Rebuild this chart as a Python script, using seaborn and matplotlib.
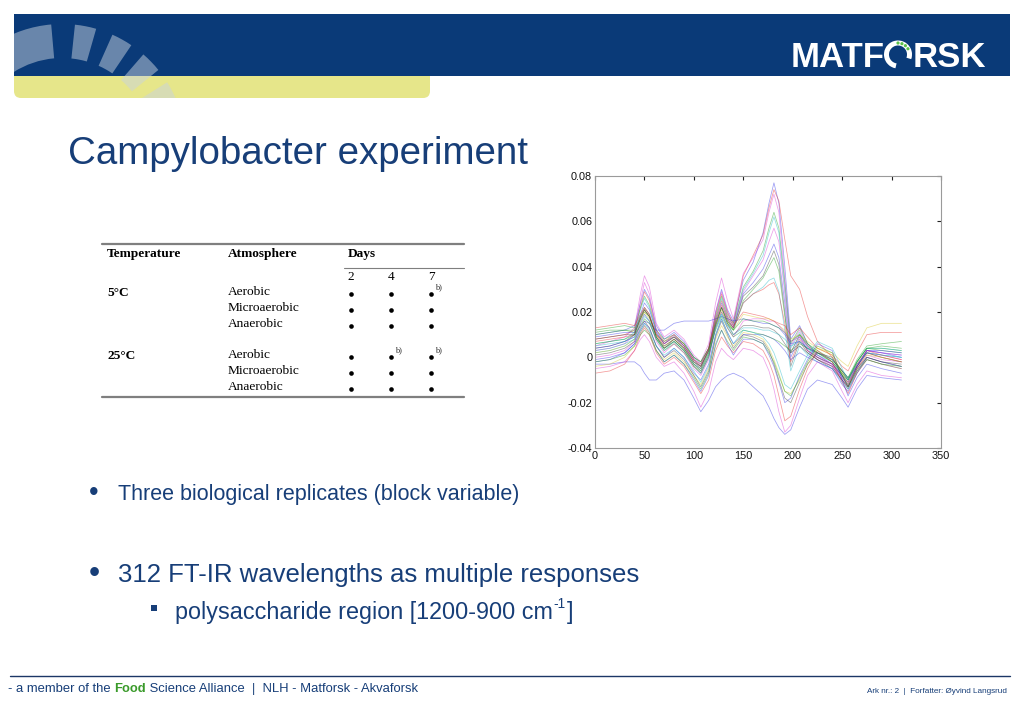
import math
import pandas as pd
import matplotlib
matplotlib.use("Agg")
import matplotlib.pyplot as plt
import seaborn as sns
from matplotlib import font_manager
from matplotlib.patches import Rectangle, Wedge, FancyBboxPatch, Arc, Circle

WAVE_INDEX = [0, 15, 30, 40, 46, 50, 55, 62, 70, 80, 90, 100, 107, 115, 122, 128, 134, 140,
              150, 160, 170, 176, 181, 186, 192, 198, 207, 215, 225, 240, 250, 256, 265, 275, 290, 310]

# spectra with the strong band around index 181
HIGH_PEAK = [
    [0.010, 0.011, 0.012, 0.014, 0.024, 0.030, 0.026, 0.014, 0.008, 0.011, 0.007, 0.000, -0.003, 0.004, 0.020, 0.030, 0.021, 0.016,
     0.034, 0.042, 0.055, 0.068, 0.077, 0.068, 0.040, 0.008, 0.014, 0.006, 0.001, -0.003, -0.008, -0.012, -0.004, 0.003, 0.002, 0.000],
    [0.008, 0.009, 0.010, 0.012, 0.022, 0.029, 0.025, 0.012, 0.007, 0.010, 0.006, -0.001, -0.004, 0.003, 0.019, 0.028, 0.020, 0.015,
     0.036, 0.045, 0.054, 0.066, 0.074, 0.069, 0.052, 0.036, 0.030, 0.018, 0.007, 0.000, -0.006, -0.010, -0.003, 0.002, 0.000, -0.002],
    [0.005, 0.007, 0.009, 0.013, 0.028, 0.036, 0.031, 0.015, 0.009, 0.012, 0.008, 0.001, -0.002, 0.006, 0.024, 0.035, 0.025, 0.017,
     0.037, 0.044, 0.052, 0.064, 0.072, 0.064, 0.035, 0.005, 0.012, 0.005, 0.000, -0.004, -0.009, -0.013, -0.005, 0.002, 0.001, -0.001],
    [0.012, 0.013, 0.014, 0.013, 0.022, 0.027, 0.023, 0.012, 0.008, 0.010, 0.006, 0.000, -0.002, 0.004, 0.018, 0.027, 0.019, 0.015,
     0.031, 0.038, 0.047, 0.057, 0.064, 0.057, 0.033, 0.006, 0.013, 0.006, 0.002, -0.002, -0.007, -0.010, -0.002, 0.004, 0.003, 0.002],
    [0.006, 0.007, 0.008, 0.011, 0.021, 0.026, 0.022, 0.011, 0.006, 0.009, 0.005, -0.002, -0.005, 0.002, 0.017, 0.026, 0.018, 0.014,
     0.030, 0.037, 0.045, 0.055, 0.062, 0.055, 0.030, 0.004, 0.011, 0.004, 0.000, -0.003, -0.009, -0.012, -0.004, 0.002, 0.001, 0.000],
    [0.003, 0.004, 0.006, 0.010, 0.025, 0.033, 0.028, 0.012, 0.006, 0.010, 0.005, -0.002, -0.005, 0.004, 0.020, 0.029, 0.020, 0.014,
     0.029, 0.036, 0.043, 0.051, 0.057, 0.051, 0.028, 0.002, 0.010, 0.003, -0.001, -0.004, -0.010, -0.013, -0.005, 0.001, -0.001, -0.002],
    [0.009, 0.010, 0.011, 0.011, 0.019, 0.024, 0.021, 0.011, 0.006, 0.009, 0.005, -0.001, -0.004, 0.003, 0.016, 0.024, 0.017, 0.013,
     0.028, 0.033, 0.039, 0.045, 0.050, 0.044, 0.024, 0.000, 0.009, 0.003, 0.000, -0.003, -0.008, -0.011, -0.004, 0.003, 0.002, 0.001],
    [0.004, 0.005, 0.007, 0.010, 0.018, 0.022, 0.019, 0.009, 0.004, 0.008, 0.004, -0.003, -0.006, 0.001, 0.015, 0.022, 0.016, 0.013,
     0.027, 0.031, 0.036, 0.042, 0.047, 0.041, 0.020, -0.004, 0.007, 0.002, -0.001, -0.005, -0.010, -0.014, -0.006, 0.000, -0.002, -0.004],
    [0.011, 0.012, 0.012, 0.011, 0.017, 0.020, 0.018, 0.010, 0.007, 0.009, 0.006, 0.000, -0.002, 0.004, 0.014, 0.020, 0.015, 0.012,
     0.025, 0.030, 0.035, 0.040, 0.044, 0.038, 0.018, 0.002, 0.010, 0.005, 0.002, -0.001, -0.006, -0.009, -0.002, 0.004, 0.004, 0.003],
    [0.002, 0.003, 0.005, 0.008, 0.015, 0.018, 0.016, 0.008, 0.003, 0.006, 0.002, -0.004, -0.007, 0.000, 0.013, 0.019, 0.014, 0.012,
     0.024, 0.028, 0.031, 0.034, 0.035, 0.029, 0.012, -0.006, 0.005, 0.001, -0.002, -0.005, -0.011, -0.014, -0.007, -0.001, -0.003, -0.005],
    [0.007, 0.008, 0.009, 0.010, 0.017, 0.021, 0.018, 0.010, 0.005, 0.008, 0.004, -0.002, -0.004, 0.003, 0.016, 0.023, 0.017, 0.013,
     0.024, 0.028, 0.030, 0.032, 0.033, 0.028, 0.015, -0.002, 0.008, 0.003, 0.000, -0.003, -0.008, -0.011, -0.003, 0.003, 0.001, -0.001],
]
HIGH_COLORS = ["b", "r", "m", "g", "c", "m", "b", "k", "g", "c", "r"]

# spectra that stay level over the 140-200 region
FLAT_TOP = [
    [0.004, 0.005, 0.007, 0.009, 0.014, 0.016, 0.015, 0.012, 0.012, 0.015, 0.016, 0.016, 0.016, 0.016, 0.017, 0.018, 0.017, 0.016,
     0.017, 0.016, 0.015, 0.015, 0.014, 0.013, 0.010, 0.006, 0.007, 0.004, 0.002, -0.001, -0.006, -0.009, -0.004, 0.003, 0.003, 0.002],
    [0.013, 0.014, 0.015, 0.014, 0.019, 0.022, 0.019, 0.010, 0.006, 0.009, 0.005, -0.001, -0.003, 0.004, 0.017, 0.025, 0.018, 0.014,
     0.020, 0.019, 0.018, 0.017, 0.016, 0.015, 0.014, 0.010, 0.013, 0.009, 0.004, 0.001, -0.004, -0.006, 0.002, 0.010, 0.011, 0.011],
    [0.002, 0.003, 0.005, 0.008, 0.016, 0.020, 0.017, 0.008, 0.003, 0.006, 0.002, -0.004, -0.006, 0.001, 0.014, 0.021, 0.015, 0.012,
     0.019, 0.018, 0.017, 0.017, 0.016, 0.014, 0.012, 0.008, 0.010, 0.007, 0.004, 0.002, -0.002, -0.004, 0.005, 0.013, 0.015, 0.015],
    [0.010, 0.011, 0.012, 0.012, 0.018, 0.021, 0.018, 0.009, 0.005, 0.008, 0.004, -0.002, -0.004, 0.003, 0.015, 0.022, 0.016, 0.012,
     0.017, 0.016, 0.016, 0.015, 0.014, 0.013, 0.011, 0.007, 0.010, 0.006, 0.003, -0.001, -0.006, -0.009, -0.001, 0.005, 0.006, 0.007],
    [0.000, 0.001, 0.003, 0.007, 0.015, 0.019, 0.016, 0.007, 0.002, 0.006, 0.002, -0.005, -0.008, -0.001, 0.013, 0.020, 0.013, 0.009,
     0.016, 0.017, 0.017, 0.016, 0.016, 0.014, 0.011, 0.007, 0.009, 0.005, 0.001, -0.003, -0.009, -0.012, -0.004, 0.003, 0.002, 0.001],
    [0.008, 0.009, 0.010, 0.010, 0.017, 0.021, 0.018, 0.009, 0.004, 0.007, 0.003, -0.004, -0.007, 0.000, 0.014, 0.022, 0.015, 0.010,
     0.014, 0.014, 0.013, 0.013, 0.012, 0.010, 0.006, 0.002, 0.005, 0.002, -0.001, -0.004, -0.010, -0.013, -0.004, 0.002, 0.000, -0.002],
    [0.005, 0.006, 0.007, 0.009, 0.016, 0.019, 0.016, 0.008, 0.003, 0.007, 0.003, -0.003, -0.006, 0.001, 0.013, 0.019, 0.014, 0.010,
     0.013, 0.013, 0.012, 0.012, 0.011, 0.010, 0.008, 0.005, 0.007, 0.004, 0.001, -0.002, -0.008, -0.010, -0.002, 0.004, 0.004, 0.003],
    [-0.002, -0.001, 0.002, 0.006, 0.012, 0.015, 0.013, 0.005, 0.000, 0.004, 0.000, -0.007, -0.010, -0.003, 0.010, 0.017, 0.011, 0.006,
     0.010, 0.010, 0.010, 0.009, 0.008, 0.006, 0.003, -0.001, 0.002, 0.000, -0.002, -0.005, -0.012, -0.015, -0.007, 0.000, -0.002, -0.004],
    [0.006, 0.007, 0.008, 0.010, 0.014, 0.017, 0.015, 0.008, 0.004, 0.007, 0.003, -0.003, -0.005, 0.002, 0.012, 0.018, 0.013, 0.009,
     0.012, 0.011, 0.010, 0.009, 0.008, 0.007, 0.005, 0.003, 0.006, 0.004, 0.002, -0.002, -0.007, -0.010, -0.002, 0.004, 0.005, 0.004],
]
FLAT_COLORS = ["b", "r", "y", "g", "m", "k", "c", "b", "g"]

# spectra that dip below zero around index 192
LOW_DIP = [
    [-0.003, -0.003, -0.002, -0.002, -0.004, -0.007, -0.010, -0.010, -0.007, -0.006, -0.010, -0.018, -0.024, -0.019, -0.013, -0.010, -0.008, -0.007,
     -0.009, -0.013, -0.017, -0.022, -0.027, -0.031, -0.034, -0.032, -0.022, -0.014, -0.010, -0.012, -0.018, -0.022, -0.014, -0.008, -0.009, -0.010],
    [-0.005, -0.004, -0.002, 0.003, 0.008, 0.010, 0.007, 0.000, -0.004, -0.002, -0.007, -0.015, -0.022, -0.015, -0.002, 0.004, 0.001, -0.001,
     0.004, 0.003, 0.000, -0.006, -0.014, -0.024, -0.033, -0.030, -0.018, -0.008, -0.002, -0.006, -0.015, -0.020, -0.012, -0.006, -0.008, -0.009],
    [-0.007, -0.006, -0.003, 0.003, 0.010, 0.013, 0.010, 0.002, -0.003, 0.000, -0.004, -0.011, -0.016, -0.010, 0.003, 0.009, 0.005, 0.002,
     0.007, 0.006, 0.003, -0.002, -0.008, -0.017, -0.028, -0.026, -0.014, -0.005, 0.003, -0.002, -0.011, -0.016, -0.007, -0.001, -0.003, -0.005],
    [-0.001, 0.000, 0.002, 0.006, 0.011, 0.014, 0.011, 0.003, -0.002, 0.001, -0.003, -0.010, -0.015, -0.008, 0.006, 0.012, 0.006, 0.001,
     0.008, 0.008, 0.006, 0.001, -0.004, -0.011, -0.020, -0.018, -0.008, -0.001, 0.006, 0.003, -0.010, -0.017, -0.009, -0.003, -0.005, -0.007],
    [-0.004, -0.003, 0.000, 0.005, 0.011, 0.014, 0.011, 0.003, -0.001, 0.002, -0.002, -0.008, -0.012, -0.005, 0.008, 0.014, 0.009, 0.005,
     0.011, 0.010, 0.008, 0.004, -0.001, -0.007, -0.015, -0.016, -0.010, -0.003, 0.004, 0.001, -0.007, -0.012, -0.005, 0.001, 0.000, -0.002],
    [0.001, 0.002, 0.004, 0.007, 0.013, 0.016, 0.013, 0.005, 0.000, 0.003, -0.001, -0.008, -0.013, -0.006, 0.009, 0.016, 0.010, 0.004,
     0.010, 0.009, 0.007, 0.003, -0.003, -0.010, -0.018, -0.020, -0.011, -0.003, 0.002, 0.000, -0.008, -0.013, -0.005, 0.000, -0.002, -0.003],
    [0.003, 0.004, 0.006, 0.008, 0.012, 0.015, 0.012, 0.005, 0.001, 0.004, 0.000, -0.006, -0.011, -0.004, 0.010, 0.017, 0.011, 0.006,
     0.012, 0.011, 0.009, 0.006, 0.002, -0.004, -0.012, -0.014, -0.006, 0.001, 0.007, 0.004, -0.005, -0.010, -0.003, 0.002, 0.001, 0.000],
    [-0.002, -0.001, 0.001, 0.005, 0.010, 0.012, 0.010, 0.003, -0.002, 0.001, -0.003, -0.009, -0.014, -0.007, 0.005, 0.012, 0.007, 0.003,
     0.009, 0.008, 0.006, 0.002, -0.002, -0.008, -0.015, -0.017, -0.009, -0.002, 0.005, 0.002, -0.008, -0.013, -0.006, -0.001, -0.003, -0.004],
]
LOW_COLORS = ["b", "m", "r", "b", "y", "k", "c", "g"]

X_TICKS = [0, 50, 100, 150, 200, 250, 300, 350]
Y_TICKS = [-0.04, -0.02, 0, 0.02, 0.04, 0.06, 0.08]
Y_TICK_LABELS = ["-0.04", "-0.02", "0", "0.02", "0.04", "0.06", "0.08"]

# design table
TEMPS = ["5°C", "25°C"]
ATMOSPHERES = ["Aerobic", "Microaerobic", "Anaerobic"]
DAYS = ["2", "4", "7"]
FOOTNOTE_B = [(0, 0, 2), (1, 0, 1), (1, 0, 2)]

TITLE = "Campylobacter experiment"
BULLET_1 = "Three biological replicates (block variable)"
BULLET_2 = "312 FT-IR wavelengths as multiple responses"
SUB_BULLET = "polysaccharide region [1200-900 cm"

MATLAB_RGB = {"b": "#2626e6", "g": "#159a15", "r": "#e62020", "c": "#10b4c4",
              "m": "#d82ad0", "y": "#d6c418", "k": "#303030"}

NAVY = "#0a3a78"
TEXT_BLUE = "#173e78"
YELLOW = "#e6e68a"

sns.set_style("white")
plt.rcParams["font.family"] = ["Liberation Sans", "DejaVu Sans"]

names = {f.name for f in font_manager.fontManager.ttflist}
if "Liberation Sans Narrow" in names:
    NARROW, SQ = "Liberation Sans Narrow", 1.0
else:
    NARROW, SQ = "Liberation Sans", 0.82

fig = plt.figure(figsize=(10.23, 7.08), dpi=100)
bg = fig.add_axes([0, 0, 1, 1])
bg.set_xlim(0, 1023)
bg.set_ylim(708, 0)
bg.axis("off")
renderer = fig.canvas.get_renderer()


def run_text(x, y, pieces, **kw):
    # draw text pieces one after another on one baseline
    for s, extra in pieces:
        opts = dict(kw)
        opts.update(extra)
        t = bg.text(x, y, s, **opts)
        x += t.get_window_extent(renderer).width
    return x


# ---- header band ----
bg.add_patch(FancyBboxPatch((14, 66), 416, 32, boxstyle="round,pad=0,rounding_size=7",
                            color=YELLOW, lw=0, zorder=1))
bg.add_patch(Rectangle((14, 14), 996, 62, color=NAVY, lw=0, zorder=2))
clip = Rectangle((14, 14), 996, 84, transform=bg.transData)
for a1, a2 in [(95, 150), (74, 84), (56, 66), (39, 49), (23, 32)]:
    w = Wedge((62, 148), 124, -a2, -a1, width=34, color="#c9d3de", alpha=0.5, lw=0, zorder=3)
    bg.add_patch(w)
    w.set_clip_path(clip)

xm = run_text(791, 67, [("MATF", {})], color="white", fontsize=25, fontweight="bold",
              family="Liberation Sans", va="baseline", zorder=4)
ring_c = (xm + 13, 54.5)
bg.add_patch(Arc(ring_c, 23, 23, theta1=100, theta2=380, color="white", lw=3.6, zorder=4))
for ang in [-30, -50, -70, -90]:
    r = 11.5
    bg.add_patch(Circle((ring_c[0] + r * math.cos(math.radians(ang)),
                         ring_c[1] + r * math.sin(math.radians(ang))), 1.6,
                        color="#5cc24a", lw=0, zorder=4))
run_text(xm + 28, 67, [("RSK", {})], color="white", fontsize=25, fontweight="bold",
         family="Liberation Sans", va="baseline", zorder=4)

# ---- title ----
bg.text(68, 164, TITLE, color=TEXT_BLUE, fontsize=33.8 * SQ, family=NARROW, va="baseline")

# ---- table ----
serif = dict(family="Liberation Serif", fontsize=9.6, color="black", va="center")
bg.plot([102, 464], [244, 244], color="#7f7f7f", lw=1.6)
bg.plot([344, 464], [268, 268], color="#7f7f7f", lw=0.8)
bg.plot([102, 464], [397, 397], color="#7f7f7f", lw=1.6)
bg.text(107, 254, "Temperature", fontweight="bold", **serif)
bg.text(228, 254, "Atmosphere", fontweight="bold", **serif)
bg.text(348, 254, "Days", fontweight="bold", **serif)
day_x = [351, 391, 431]
for d, x in zip(DAYS, day_x):
    bg.text(x, 277, d, ha="center", **serif)
block_y = [[292, 308, 324], [355, 371, 387]]
for ti, temp in enumerate(TEMPS):
    bg.text(107, block_y[ti][0] + 1, temp, fontweight="bold", **serif)
    for ai, atm in enumerate(ATMOSPHERES):
        yy = block_y[ti][ai]
        bg.text(228, yy, atm, **serif)
        bg.scatter(day_x, [yy + 1.5] * len(DAYS), s=11, color="black", lw=0)
for ti, ai, di in FOOTNOTE_B:
    bg.text(day_x[di] + 4, block_y[ti][ai] - 5, "b)", family="Liberation Serif",
            fontsize=6, va="center")

# ---- bullets ----
blue_txt = dict(color=TEXT_BLUE, family=NARROW, va="baseline")
bg.text(89, 500, "•", fontsize=24 * SQ, **blue_txt)
bg.text(118, 500, BULLET_1, fontsize=18.9 * SQ, **blue_txt)
bg.text(89, 582, "•", fontsize=28 * SQ, **blue_txt)
bg.text(118, 582, BULLET_2, fontsize=22.6 * SQ, **blue_txt)
bg.add_patch(Rectangle((151, 605), 5.5, 5.5, color=TEXT_BLUE, lw=0))
xe = run_text(175, 619, [(SUB_BULLET, {})], fontsize=20.5 * SQ, **blue_txt)
xe = run_text(xe + 1, 608, [("-1", {})], fontsize=12 * SQ, **blue_txt)
run_text(xe + 1, 619, [("]", {})], fontsize=20.5 * SQ, **blue_txt)

# ---- footer ----
bg.plot([10, 1010], [676, 676], color="#1c3766", lw=1.0)
foot = dict(color=TEXT_BLUE, family=NARROW, fontsize=11.4 * SQ, va="baseline")
run_text(8, 692, [("- a member of the ", {}), ("Food", {"color": "#3a9a2a", "fontweight": "bold"}),
                  (" Science Alliance  |  NLH - Matforsk - Akvaforsk", {})], **foot)
bg.text(1007, 693, "Ark nr.: 2  |  Forfatter: Øyvind Langsrud", color=TEXT_BLUE,
        family=NARROW, fontsize=7.2 * SQ, ha="right", va="baseline")

# ---- spectra plot ----
ax = fig.add_axes([595 / 1023, 1 - 448 / 708, 346 / 1023, 272 / 708])
rows = []
palette = {}
groups = [("high", HIGH_PEAK, HIGH_COLORS), ("flat", FLAT_TOP, FLAT_COLORS), ("low", LOW_DIP, LOW_COLORS)]
for gname, spectra, cols in groups:
    for i, (spec, c) in enumerate(zip(spectra, cols)):
        sid = f"{gname}{i}"
        palette[sid] = MATLAB_RGB[c]
        for w, v in zip(WAVE_INDEX, spec):
            rows.append({"wavelength": w, "value": v, "spectrum": sid})
df = pd.DataFrame(rows)

sns.lineplot(data=df, x="wavelength", y="value", hue="spectrum", palette=palette,
             estimator=None, sort=False, legend=False, linewidth=0.55, alpha=0.45, ax=ax)

ax.set_xlim(0, 350)
ax.set_ylim(-0.04, 0.08)
ax.set_xticks(X_TICKS)
ax.set_yticks(Y_TICKS)
ax.set_yticklabels(Y_TICK_LABELS)
ax.set_xlabel("")
ax.set_ylabel("")
ax.tick_params(direction="in", length=3, width=0.8, color="#222222", labelsize=7.8,
               labelcolor="#111111", top=True, right=True, pad=2)
for s in ax.spines.values():
    s.set_color("#9a9a9a")
    s.set_linewidth(0.8)

fig.savefig("out.png", dpi=100)
